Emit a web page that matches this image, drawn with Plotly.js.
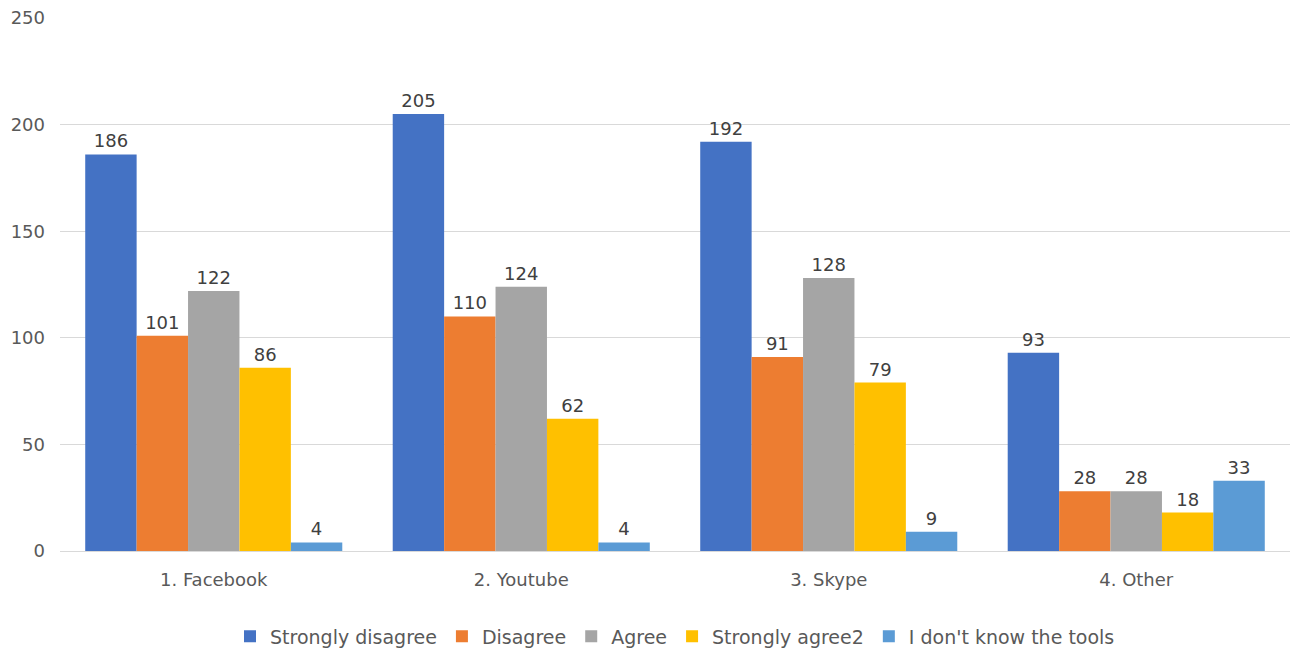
<!DOCTYPE html>
<html><head><meta charset="utf-8">
<script src="https://cdn.plot.ly/plotly-3.0.1.min.js"></script>
<style>html,body{margin:0;padding:0;background:#fff}#chart{width:1300px;height:652px}</style>
</head><body><div id="chart"></div>
<script>
const categories = ["1. Facebook", "2. Youtube", "3. Skype", "4. Other"];
const seriesNames = ["Strongly disagree", "Disagree", "Agree", "Strongly agree2", "I don't know the tools"];
const stronglyDisagree = [186, 205, 192, 93];
const disagree = [101, 110, 91, 28];
const agree = [122, 124, 128, 28];
const stronglyAgree2 = [86, 62, 79, 18];
const dontKnow = [4, 4, 9, 33];
const colors = ["#4472C4", "#ED7D31", "#A5A5A5", "#FFC000", "#5B9BD5"];
const yTicks = [0, 50, 100, 150, 200, 250];

const allSeries = [stronglyDisagree, disagree, agree, stronglyAgree2, dontKnow];
const font = "DejaVu Sans, Liberation Sans, sans-serif";
const traces = allSeries.map((vals, i) => ({
  type: "bar",
  name: seriesNames[i],
  x: categories,
  y: vals,
  marker: {color: colors[i]},
  text: vals.map(String),
  textposition: "outside",
  cliponaxis: false,
  textfont: {family: font, size: 18, color: "#404040"},
  hoverinfo: "x+y+name"
}));

const layout = {
  width: 1300, height: 652,
  margin: {l: 60, r: 10, t: 18, b: 101, autoexpand: false},
  paper_bgcolor: "#fff", plot_bgcolor: "#fff",
  barmode: "group", bargap: 0.164, bargroupgap: 0,
  font: {family: font, color: "#595959", size: 18},
  xaxis: {
    showline: true, linecolor: "#D9D9D9", linewidth: 1,
    ticks: "", tickfont: {size: 18, color: "#595959"},
    ticklabelstandoff: 12
  },
  yaxis: {
    range: [0, 250], tickvals: yTicks, ticktext: yTicks.map(String),
    showgrid: true, gridcolor: "#D9D9D9", gridwidth: 1,
    zeroline: false, showline: false,
    tickfont: {size: 18, color: "#595959"},
    ticklabelstandoff: 14
  },
  legend: {
    orientation: "h", x: 0.5, xanchor: "center", y: -0.16, yanchor: "middle",
    font: {size: 19, color: "#595959"}, itemwidth: 30, traceorder: "normal"
  },
  showlegend: true
};
Plotly.newPlot("chart", traces, layout, {displayModeBar: false});
</script></body></html>
